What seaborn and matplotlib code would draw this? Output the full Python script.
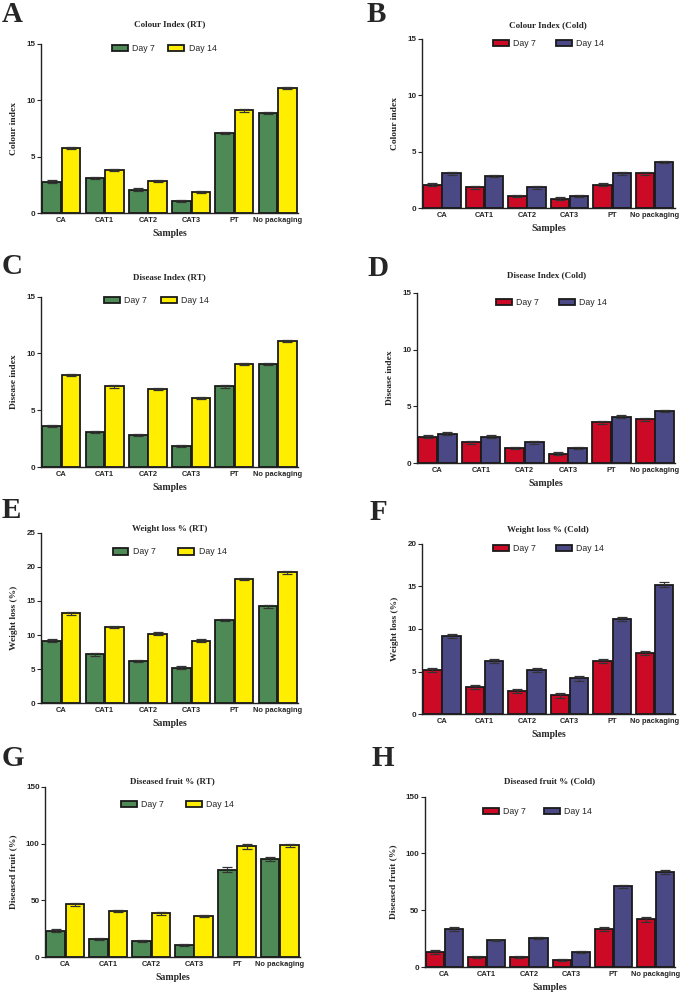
import numpy as np
import pandas as pd
import matplotlib
matplotlib.use("Agg")
import matplotlib.pyplot as plt
import seaborn as sns

samples = ["CA", "CAT1", "CAT2", "CAT3", "PT", "No packaging"]
days = ["Day 7", "Day 14"]

# values (mean, error)
colour_rt_d7 = [2.8, 3.1, 2.1, 1.1, 7.1, 8.9]
colour_rt_d14 = [5.8, 3.85, 2.85, 1.85, 9.1, 11.1]
colour_rt_err = [0.1, 0.1, 0.1, 0.1, 0.1, 0.1]

colour_cold_d7 = [2.1, 1.85, 1.1, 0.85, 2.1, 3.1]
colour_cold_d14 = [3.1, 2.85, 1.85, 1.1, 3.1, 4.1]
colour_cold_err = [0.12, 0.12, 0.12, 0.12, 0.12, 0.12]

disease_rt_d7 = [3.6, 3.1, 2.85, 1.85, 7.1, 9.1]
disease_rt_d14 = [8.1, 7.1, 6.85, 6.1, 9.1, 11.1]
disease_rt_err = [0.1, 0.1, 0.1, 0.1, 0.1, 0.1]

disease_cold_d7 = [2.35, 1.85, 1.35, 0.85, 3.6, 3.85]
disease_cold_d14 = [2.6, 2.35, 1.85, 1.35, 4.1, 4.6]
disease_cold_err = [0.12, 0.12, 0.12, 0.12, 0.12, 0.12]

weight_rt_d7 = [9.2, 7.2, 6.2, 5.2, 12.2, 14.2]
weight_rt_d14 = [13.2, 11.2, 10.2, 9.2, 18.2, 19.2]
weight_rt_err = [0.2, 0.2, 0.2, 0.2, 0.2, 0.2]

weight_cold_d7 = [5.2, 3.2, 2.7, 2.2, 6.2, 7.2]
weight_cold_d14 = [9.2, 6.2, 5.2, 4.2, 11.2, 15.2]
weight_cold_err = [0.25, 0.25, 0.25, 0.25, 0.25, 0.25]

fruit_rt_d7 = [23.5, 16, 14, 11, 77, 86.5]
fruit_rt_d14 = [46.5, 40.5, 38.5, 36.5, 97.5, 98.5]
fruit_rt_err = [1.2, 1.0, 1.0, 0.8, 2.0, 1.5]

fruit_cold_d7 = [13.5, 9, 9, 6, 33.5, 42]
fruit_cold_d14 = [33.5, 23.5, 26, 13.5, 71, 83.5]
fruit_cold_err = [1.5, 0.8, 0.8, 0.8, 1.5, 2.0]

rt_colors = ["#4E8A55", "#FFEE00"]
cold_colors = ["#CC0A25", "#4B4886"]

serif = "Liberation Serif"
sans = "Liberation Sans"

# letter, title, ylabel, ymax, yticks, d7, d14, err, colors,
# axes rect, title offset px, legend offset px, legend x, letter pos, col spacing
panels = [
    ("A", "Colour Index (RT)", "Colour index", 15, [0, 5, 10, 15],
     colour_rt_d7, colour_rt_d14, colour_rt_err, rt_colors,
     [0.060, 0.785, 0.375, 0.171], 19, 5, 0.48, (2, 14), 1.5),
    ("B", "Colour Index (Cold)", "Colour index", 15, [0, 5, 10, 15],
     colour_cold_d7, colour_cold_d14, colour_cold_err, cold_colors,
     [0.616, 0.790, 0.369, 0.171], 14, 5, 0.50, (367, 14), 2.3),
    ("C", "Disease Index (RT)", "Disease index", 15, [0, 5, 10, 15],
     disease_rt_d7, disease_rt_d14, disease_rt_err, rt_colors,
     [0.060, 0.529, 0.375, 0.172], 19, 4, 0.45, (2, 267), 1.6),
    ("D", "Disease Index (Cold)", "Disease index", 15, [0, 5, 10, 15],
     disease_cold_d7, disease_cold_d14, disease_cold_err, cold_colors,
     [0.609, 0.533, 0.377, 0.172], 17, 10, 0.52, (367, 268), 2.3),
    ("E", "Weight loss % (RT)", "Weight loss (%)", 25, [0, 5, 10, 15, 20, 25],
     weight_rt_d7, weight_rt_d14, weight_rt_err, rt_colors,
     [0.060, 0.291, 0.375, 0.172], 4, 19, 0.50, (2, 510), 2.6),
    ("F", "Weight loss % (Cold)", "Weight loss (%)", 20, [0, 5, 10, 15, 20],
     weight_cold_d7, weight_cold_d14, weight_cold_err, cold_colors,
     [0.616, 0.280, 0.369, 0.172], 14, 5, 0.50, (370, 512), 2.3),
    ("G", "Diseased fruit % (RT)", "Diseased fruit (%)", 150, [0, 50, 100, 150],
     fruit_rt_d7, fruit_rt_d14, fruit_rt_err, rt_colors,
     [0.066, 0.035, 0.372, 0.172], 5, 18, 0.52, (2, 758), 2.5),
    ("H", "Diseased fruit % (Cold)", "Diseased fruit (%)", 150, [0, 50, 100, 150],
     fruit_cold_d7, fruit_cold_d14, fruit_cold_err, cold_colors,
     [0.620, 0.025, 0.366, 0.172], 15, 15, 0.45, (372, 758), 2.0),
]

sns.set_style("ticks")
fig = plt.figure(figsize=(6.85, 9.92), dpi=100)

for (letter, title, ylabel, ymax, yticks, d7, d14, err, colors,
     rect, title_off, leg_off, leg_x, letter_xy, colsp) in panels:
    ax = fig.add_axes(rect)
    df = pd.DataFrame({
        "Sample": samples * 2,
        "Day": [days[0]] * 6 + [days[1]] * 6,
        "Value": d7 + d14,
    })
    sns.barplot(data=df, x="Sample", y="Value", hue="Day", order=samples,
                hue_order=days, palette=colors, errorbar=None, width=0.9,
                gap=0.04, edgecolor="#1a1a1a", linewidth=1.3, saturation=1,
                ax=ax)

    # error bars on top of every bar
    for cont, vals in zip(ax.containers, [d7, d14]):
        xs = [b.get_x() + b.get_width() / 2 for b in cont]
        ax.errorbar(xs, vals, yerr=err, fmt="none", ecolor="#333333",
                    elinewidth=0.8, capsize=3.5, capthick=0.9)

    h_px = rect[3] * 992
    ax.set_ylim(0, ymax)
    ax.set_yticks(yticks)
    ax.set_xlim(-0.47, 5.47)
    sns.despine(ax=ax)
    for s in ["left", "bottom"]:
        ax.spines[s].set_linewidth(1.0)
        ax.spines[s].set_color("#222222")
    ax.tick_params(axis="y", length=3, width=0.8, pad=1, labelsize=5.8)
    ax.tick_params(axis="x", length=0, pad=3, labelsize=5.4)
    for lab in ax.get_xticklabels() + ax.get_yticklabels():
        lab.set_fontfamily(sans)
        lab.set_fontweight("bold")

    ax.set_xlabel("Samples", fontfamily=serif, fontweight="bold",
                  fontsize=7, labelpad=3)
    ax.set_ylabel(ylabel, fontfamily=serif, fontweight="bold",
                  fontsize=6.8, labelpad=6)

    ax.text(0.5, 1 + title_off / h_px, title, transform=ax.transAxes,
            ha="center", va="center", fontfamily=serif,
            fontweight="bold", fontsize=6.5)

    handles, labels = ax.get_legend_handles_labels()
    ax.legend(handles, labels, loc="center", ncol=2, frameon=False,
              bbox_to_anchor=(leg_x, 1 - leg_off / h_px),
              prop={"family": sans, "size": 6.3}, handlelength=1.8,
              handleheight=0.8, handletextpad=0.5, columnspacing=colsp)

    fig.text(letter_xy[0] / 685, 1 - letter_xy[1] / 992, letter,
             ha="left", va="center", fontfamily=serif, fontweight="bold",
             fontsize=21)

fig.savefig("out.png", dpi=100)
